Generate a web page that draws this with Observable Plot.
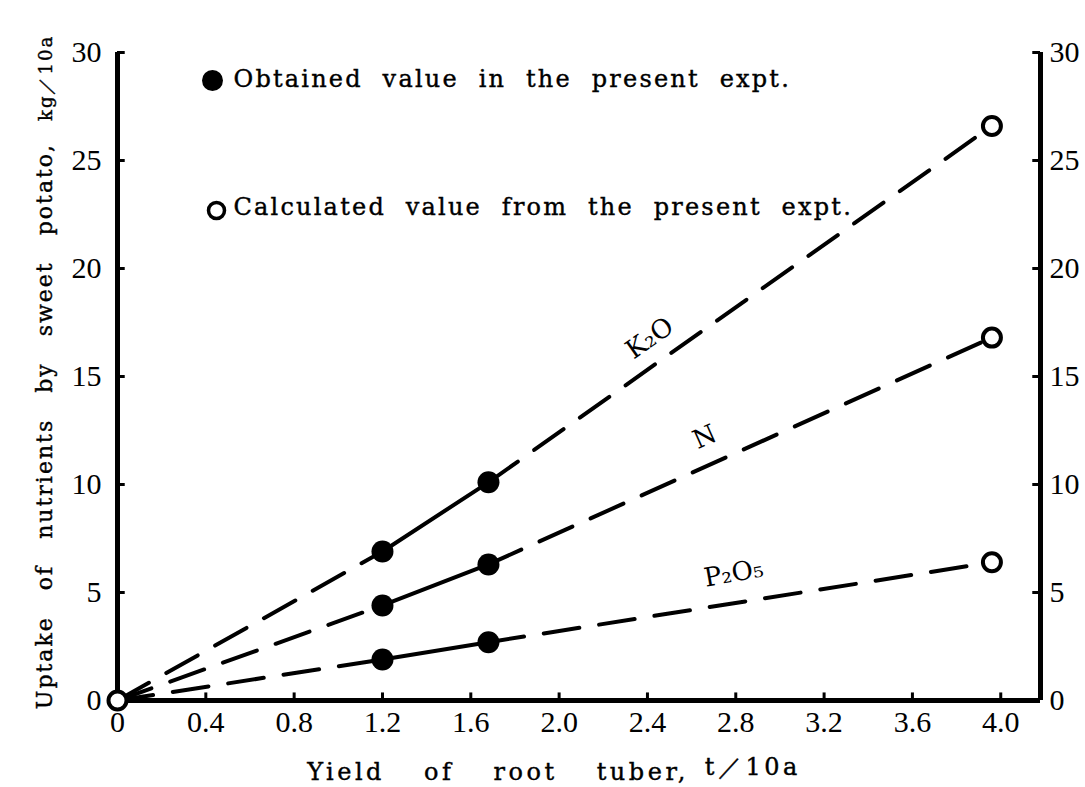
<!DOCTYPE html>
<html><head><meta charset="utf-8">
<script src="https://cdn.jsdelivr.net/npm/d3@7"></script>
<script src="https://cdn.jsdelivr.net/npm/@observablehq/plot@0.6"></script>
<style>body{margin:0;background:#fff}</style>
</head><body><div id="chart"></div>
<script>
const nutrients = ["K₂O", "N", "P₂O₅"];
const obtainedX = [1.2, 1.68];
const obtainedK2O = [6.9, 10.1];
const obtainedN = [4.4, 6.3];
const obtainedP2O5 = [1.9, 2.7];
const calculatedX = 3.96;
const calculatedValues = [26.6, 16.8, 6.4];
const xTicks = [0, 0.4, 0.8, 1.2, 1.6, 2.0, 2.4, 2.8, 3.2, 3.6, 4.0];
const yTicks = [0, 5, 10, 15, 20, 25, 30];
const xMax = 4.18;
const labelX = [2.41, 2.66, 2.79];
const labelRotate = [-35, -24, -10];
const legendLabels = ["Obtained value in the present expt.", "Calculated value from the present expt."];

const obtainedSeries = [obtainedK2O, obtainedN, obtainedP2O5];
const obtained = nutrients.flatMap((n, i) => obtainedX.map((x, j) => ({n, x, y: obtainedSeries[i][j]})));
const dashed = nutrients.flatMap((n, i) => [
  {seg: n + "a", x: 0, y: 0},
  {seg: n + "a", x: obtainedX[0], y: obtainedSeries[i][0]},
  {seg: n + "b", x: obtainedX[1], y: obtainedSeries[i][1]},
  {seg: n + "b", x: calculatedX, y: calculatedValues[i]}
]);
const calculated = nutrients.map((n, i) => ({n, x: calculatedX, y: calculatedValues[i]}));
const origin = [{x: 0, y: 0}];
const labels = nutrients.map((n, i) => {
  const x0 = obtainedX[1], y0 = obtainedSeries[i][1];
  const y = y0 + (labelX[i] - x0) * (calculatedValues[i] - y0) / (calculatedX - x0);
  return {n, x: labelX[i], y, rotate: labelRotate[i]};
});

const tickFont = "Liberation Serif";
const titleFont = "DejaVu Serif";

const plot = Plot.plot({
  width: 1085,
  height: 787,
  marginLeft: 117,
  marginRight: 45,
  marginTop: 52,
  marginBottom: 87,
  x: {domain: [0, xMax], axis: null},
  y: {domain: [0, 30], axis: null},
  style: {fontFamily: tickFont, fontSize: "30px", color: "black", background: "white"},
  marks: [
    Plot.axisX({ticks: xTicks, tickSize: 0, tickPadding: 10, label: null,
      tickFormat: d => d === 0 ? "0" : d.toFixed(1)}),
    Plot.axisY({anchor: "left", ticks: yTicks, tickSize: 0, tickPadding: 16, label: null}),
    Plot.axisY({anchor: "right", ticks: yTicks, tickSize: 0, tickPadding: 9, label: null}),
    Plot.ruleY(yTicks.filter(d => d > 0), {x1: 0, x2: 0.035, strokeWidth: 3}),
    Plot.ruleY(yTicks.filter(d => d > 0), {x1: xMax - 0.035, x2: xMax, strokeWidth: 3}),
    Plot.ruleX(xTicks.filter(d => d > 0), {y1: 0, y2: 0.35, strokeWidth: 3}),
    Plot.ruleX([0, xMax], {y1: 0, y2: 30, strokeWidth: 5}),
    Plot.ruleY([0], {x1: 0, x2: xMax, strokeWidth: 5}),
    Plot.line(dashed, {x: "x", y: "y", z: "seg", stroke: "black", strokeWidth: 4, strokeDasharray: "36,20"}),
    Plot.line(obtained, {x: "x", y: "y", z: "n", stroke: "black", strokeWidth: 4}),
    Plot.dot(obtained, {x: "x", y: "y", r: 11, fill: "black"}),
    Plot.dot(calculated, {x: "x", y: "y", r: 9, fill: "white", stroke: "black", strokeWidth: 4}),
    Plot.dot(origin, {x: "x", y: "y", r: 9, fill: "white", stroke: "black", strokeWidth: 4}),
    Plot.text(labels, {x: "x", y: "y", text: "n", rotate: "rotate", dy: -30, fontFamily: titleFont, fontSize: 26}),
    // legend
    Plot.dot([legendLabels[0]], {frameAnchor: "top-left", dx: 95, dy: 28, r: 10.5, fill: "black"}),
    Plot.dot([legendLabels[1]], {frameAnchor: "top-left", dx: 99, dy: 158, r: 8, fill: "white", stroke: "black", strokeWidth: 3.5}),
    Plot.text([legendLabels[0]], {frameAnchor: "top-left", dx: 116, dy: 27, lineAnchor: "middle", text: d => d, textAnchor: "start", fontFamily: titleFont, fontSize: 24}),
    Plot.text([legendLabels[1]], {frameAnchor: "top-left", dx: 116, dy: 155, lineAnchor: "middle", text: d => d, textAnchor: "start", fontFamily: titleFont, fontSize: 24})
  ]
});

const svg = d3.select(plot);
svg.selectAll("text").filter(function() { return this.textContent.includes("value"); })
  .style("letter-spacing", "2.2px").style("word-spacing", "10px")
  .style("stroke", "black").style("stroke-width", "0.4px");

// axis titles
const yt = svg.append("text")
  .attr("transform", "translate(52,372) rotate(-90)")
  .attr("text-anchor", "middle")
  .style("font-family", titleFont).style("font-size", "22px")
  .style("letter-spacing", "2px").style("word-spacing", "17px")
  .style("stroke", "black").style("stroke-width", "0.4px");
yt.append("tspan").text("Uptake of nutrients by sweet potato,");
yt.append("tspan").attr("dx", 22).style("font-size", "18px").text("kg／10a");

const xt = svg.append("text")
  .attr("x", 554).attr("y", 780)
  .attr("text-anchor", "middle")
  .style("font-family", titleFont).style("font-size", "24px")
  .style("letter-spacing", "3.5px").style("word-spacing", "28px")
  .style("stroke", "black").style("stroke-width", "0.4px");
xt.append("tspan").text("Yield of root tuber,");
xt.append("tspan").attr("dx", 16).attr("dy", -5).text("t／10a");

document.getElementById("chart").appendChild(plot);
</script>
</body></html>
